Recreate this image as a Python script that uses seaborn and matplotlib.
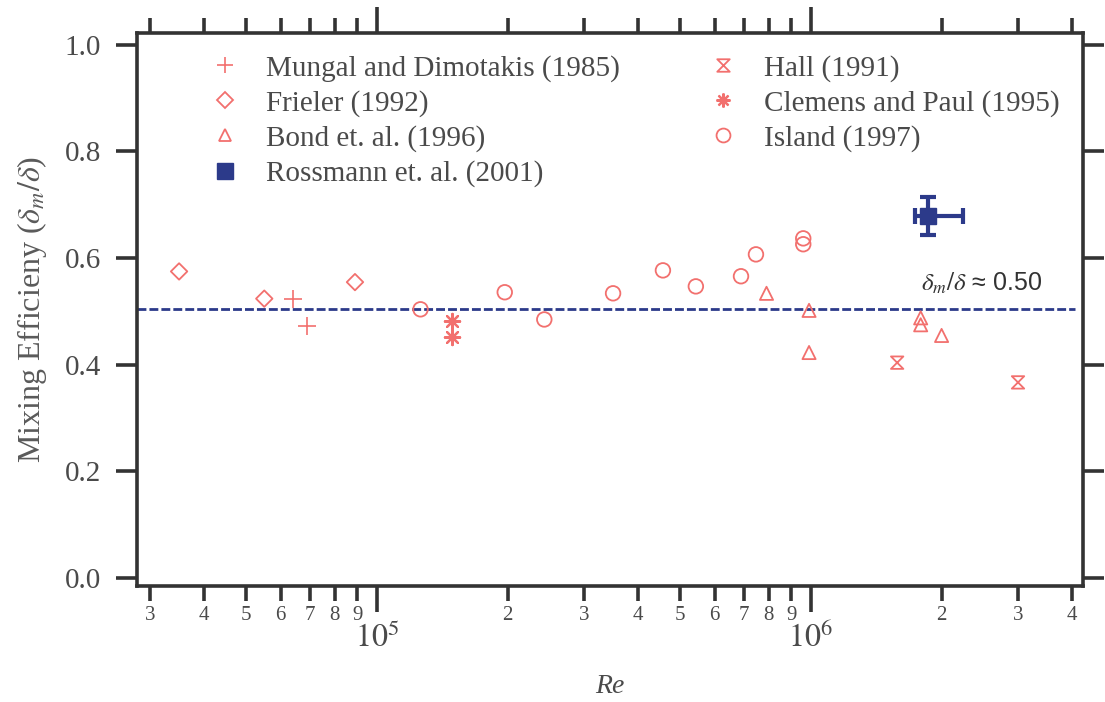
import numpy as np
import pandas as pd
import seaborn as sns
import matplotlib
matplotlib.use('Agg')
import matplotlib.pyplot as plt
from matplotlib.path import Path
from matplotlib.lines import Line2D
from matplotlib.ticker import FixedLocator, FixedFormatter

# data
mungal_re = [6.4e4, 6.9e4]
mungal_eff = [0.523, 0.472]
frieler_re = [3.5e4, 5.5e4, 8.9e4]
frieler_eff = [0.575, 0.524, 0.555]
bond_re = [7.9e5, 9.9e5, 9.9e5, 1.79e6, 1.79e6, 2.0e6]
bond_eff = [0.534, 0.502, 0.423, 0.488, 0.475, 0.455]
hall_re = [1.58e6, 3.0e6]
hall_eff = [0.404, 0.367]
clemens_re = [1.49e5, 1.49e5]
clemens_eff = [0.483, 0.453]
island_re = [1.26e5, 1.97e5, 2.43e5, 3.5e5, 4.56e5, 5.43e5, 6.9e5, 7.47e5, 9.6e5, 9.6e5]
island_eff = [0.504, 0.536, 0.485, 0.534, 0.577, 0.547, 0.566, 0.607, 0.637, 0.626]
rossmann_re = [1.86e6]
rossmann_eff = [0.679]
rossmann_re_err = [[0.12e6], [0.38e6]]
rossmann_eff_err = [0.036]
mean_eff = 0.505

minor_ticks = [3e4, 4e4, 5e4, 6e4, 7e4, 8e4, 9e4,
               2e5, 3e5, 4e5, 5e5, 6e5, 7e5, 8e5, 9e5,
               2e6, 3e6, 4e6]
minor_labels = ['3', '4', '5', '6', '7', '8', '9',
                '2', '3', '4', '5', '6', '7', '8', '9',
                '2', '3', '4']
major_ticks = [1e5, 1e6]
major_labels = ['$10^{5}$', '$10^{6}$']

sns.set_style('white')
plt.rcParams['font.family'] = ['Liberation Serif', 'DejaVu Serif']
plt.rcParams['mathtext.fontset'] = 'stix'

red = '#f2706e'
navy = '#2c3a8a'
txt = '#4a4a4a'
frame = '#333333'

hourglass = Path([(-1, 1), (1, 1), (-1, -1), (1, -1), (-1, 1)],
                 [Path.MOVETO, Path.LINETO, Path.LINETO, Path.LINETO, Path.CLOSEPOLY])
star = (8, 2, 0)

fig = plt.figure(figsize=(11.05, 7.02), dpi=100)
ax = fig.add_axes([0.124, 0.165, 0.856, 0.788])

ax.axhline(mean_eff, xmin=0, xmax=0.992, color=navy, lw=2.0, ls=(0, (3.2, 1.1)), zorder=1)

sns.scatterplot(x=mungal_re, y=mungal_eff, marker='+', s=150, color=red, linewidth=1.2, ax=ax, zorder=3)
sns.scatterplot(x=frieler_re, y=frieler_eff, marker='D', s=70, facecolor='none', edgecolor=red, linewidth=1.3, ax=ax, zorder=3)
sns.scatterplot(x=bond_re, y=bond_eff, marker='^', s=90, facecolor='none', edgecolor=red, linewidth=1.3, ax=ax, zorder=3)
sns.scatterplot(x=hall_re, y=hall_eff, marker=hourglass, s=80, facecolor='none', edgecolor=red, linewidth=1.3, ax=ax, zorder=3)
sns.scatterplot(x=clemens_re, y=clemens_eff, marker=star, s=120, color=red, linewidth=1.6, ax=ax, zorder=3)
sns.scatterplot(x=island_re, y=island_eff, marker='o', s=110, facecolor='none', edgecolor=red, linewidth=1.3, ax=ax, zorder=3)

ax.errorbar(rossmann_re, rossmann_eff, xerr=rossmann_re_err, yerr=rossmann_eff_err,
            fmt='s', color=navy, ms=11, elinewidth=3, capsize=6, capthick=3, zorder=4)

ax.set_xscale('log')
ax.set_xlim(2.8e4, 4.233e6)
ax.set_ylim(-0.015, 1.022)

ax.xaxis.set_major_locator(FixedLocator(major_ticks))
ax.xaxis.set_major_formatter(FixedFormatter(major_labels))
ax.xaxis.set_minor_locator(FixedLocator(minor_ticks))
ax.xaxis.set_minor_formatter(FixedFormatter(minor_labels))
ax.set_yticks([0.0, 0.2, 0.4, 0.6, 0.8, 1.0])
ax.set_yticklabels(['0.0', '0.2', '0.4', '0.6', '0.8', '1.0'])

ax.tick_params(axis='both', which='both', direction='out', color=frame, labelcolor=txt,
               top=True, right=True, bottom=True, left=True)
ax.tick_params(axis='y', which='major', length=15, width=2.6, labelsize=21, pad=11)
ax.tick_params(axis='x', which='minor', length=11, width=2.6, labelsize=15, pad=3)
ax.tick_params(axis='x', which='major', length=19, width=2.6, labelsize=23, pad=7)

for sp in ax.spines.values():
    sp.set_visible(True)
    sp.set_color(frame)
    sp.set_linewidth(2.6)

ax.set_ylabel(r'Mixing Efficieny ($\delta_m/\delta$)', fontsize=23, color='#5a5a5a', labelpad=11)
ax.set_xlabel('Re', fontsize=20, style='italic', color=txt, labelpad=15)

ax.text(1.79e6, 0.553, r'$\delta_m/\delta$ ≈ 0.50', fontsize=18, color='#333333',
        family=['Liberation Sans', 'DejaVu Sans'], ha='left', va='center')

handles = [
    Line2D([], [], ls='', marker='+', ms=12, mew=1.2, color=red),
    Line2D([], [], ls='', marker='D', ms=8, mfc='none', mec=red, mew=1.3),
    Line2D([], [], ls='', marker='^', ms=9, mfc='none', mec=red, mew=1.3),
    Line2D([], [], ls='', marker='s', ms=11, color=navy),
    Line2D([], [], ls='', marker=hourglass, ms=9, mfc='none', mec=red, mew=1.3),
    Line2D([], [], ls='', marker=star, ms=10, color=red, mew=1.6),
    Line2D([], [], ls='', marker='o', ms=10, mfc='none', mec=red, mew=1.3),
]
labels = ['Mungal and Dimotakis (1985)', 'Frieler (1992)', 'Bond et. al. (1996)',
          'Rossmann et. al. (2001)', 'Hall (1991)', 'Clemens and Paul (1995)', 'Island (1997)']
leg = ax.legend(handles, labels, ncol=2, frameon=False, loc='upper left',
                bbox_to_anchor=(0.05, 1.008), fontsize=21, handlelength=1.0,
                handletextpad=0.9, columnspacing=3.05, labelspacing=0.28)
for t in leg.get_texts():
    t.set_color(txt)

fig.savefig('out.png', dpi=100)
